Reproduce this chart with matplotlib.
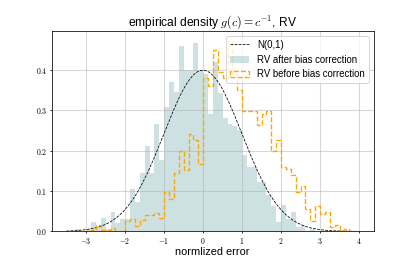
import numpy as np
import matplotlib
matplotlib.use("Agg")
import matplotlib.pyplot as plt
from matplotlib.ticker import FuncFormatter

plt.rcParams['font.family'] = ['Liberation Sans', 'DejaVu Sans']
plt.rcParams['mathtext.fontset'] = 'cm'

# shared histogram bins
bin_lo, bin_hi, n_bins = -3.245, 3.88, 57

# density per bin, RV after bias correction
after_bc = [0.007, 0.002, 0.005, 0.023, 0.010, 0.032, 0.007, 0.048, 0.021, 0.030,
            0.030, 0.105, 0.073, 0.145, 0.211, 0.145, 0.265, 0.177, 0.309, 0.370,
            0.345, 0.458, 0.400, 0.400, 0.467, 0.400, 0.390, 0.290, 0.420, 0.342,
            0.280, 0.267, 0.262, 0.250, 0.188, 0.160, 0.160, 0.122, 0.122, 0.089,
            0.064, 0.023, 0.065, 0.030, 0.048, 0.010, 0.015, 0.000, 0.007, 0.0,
            0.0, 0.0, 0.0, 0.0, 0.0, 0.0, 0.0]

# density per bin, RV before bias correction
before_bc = [0.0, 0.0, 0.0, 0.003, 0.015, 0.003, 0.003, 0.008, 0.002, 0.002,
             0.026, 0.030, 0.013, 0.028, 0.040, 0.040, 0.046, 0.033, 0.097, 0.080,
             0.145, 0.200, 0.152, 0.240, 0.226, 0.168, 0.380, 0.360, 0.450, 0.395,
             0.380, 0.472, 0.390, 0.350, 0.297, 0.297, 0.297, 0.264, 0.290, 0.297,
             0.200, 0.226, 0.160, 0.155, 0.140, 0.098, 0.112, 0.056, 0.026, 0.062,
             0.042, 0.047, 0.011, 0.015, 0.004, 0.007, 0.002]

xticks = [-3, -2, -1, 0, 1, 2, 3, 4]
yticks = [0.0, 0.1, 0.2, 0.3, 0.4]

edges = np.linspace(bin_lo, bin_hi, n_bins + 1)
centers = 0.5 * (edges[:-1] + edges[1:])

x = np.linspace(-3.5, 4.0, 400)
pdf = np.exp(-x**2 / 2) / np.sqrt(2 * np.pi)

fig, ax = plt.subplots(figsize=(6, 260 / (415 / 6)), dpi=415 / 6)

ax.plot(x, pdf, '--', color='black', lw=0.8, label='N(0,1)')
ax.hist(centers, bins=edges, weights=after_bc, histtype='stepfilled',
        color='cadetblue', alpha=0.3, lw=0, label='RV after bias correction')
ax.hist(centers, bins=edges, weights=before_bc, histtype='step',
        color='orange', ls='--', lw=1.4, label='RV before bias correction')

ax.set_xticks(xticks)
ax.set_yticks(yticks)
ax.xaxis.set_major_formatter(FuncFormatter(lambda v, p: f'${v:.0f}$'))
ax.yaxis.set_major_formatter(FuncFormatter(lambda v, p: f'${v:.1f}$'))
ax.tick_params(labelsize=8, length=2.5, pad=2)

ax.grid(True, color='#b0b0b0', alpha=0.5, lw=1.1)
ax.set_title(r'empirical density $g(c) = c^{-1}$, RV', fontsize=12.5)
ax.set_xlabel('normlized error', fontsize=11.5, labelpad=1)
ax.legend(loc='upper right', fontsize=10)

plt.savefig('out.png')
